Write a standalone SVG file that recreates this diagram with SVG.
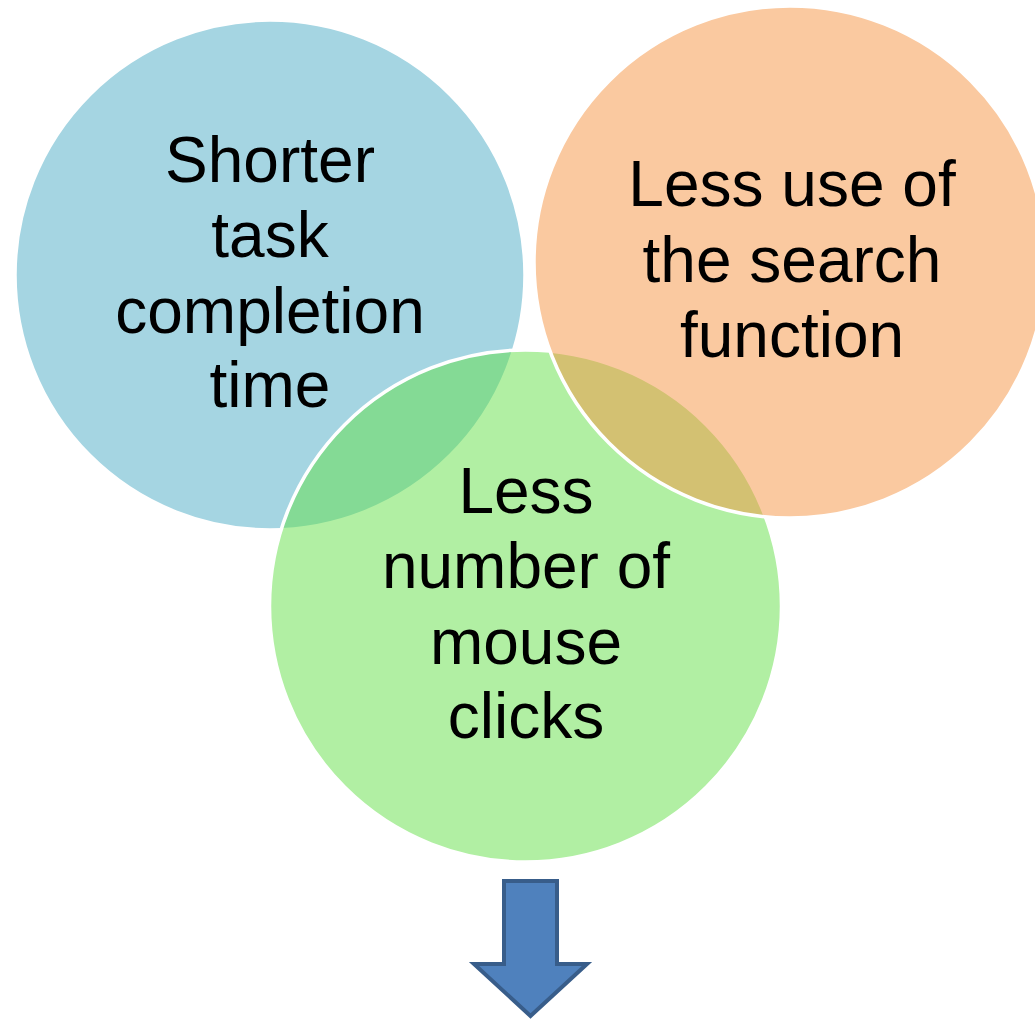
<svg xmlns="http://www.w3.org/2000/svg" width="1035" height="1020" viewBox="0 0 1035 1020">
<style>
.lbl{font-family:"Liberation Sans",Arial,sans-serif;font-size:64px;fill:#000;text-anchor:middle}
.circ{stroke:#fff;stroke-width:3.5}
</style>
<rect width="1035" height="1020" fill="#fff"/>
<g id="node-time">
<circle cx="270" cy="275" r="255" fill="#A5D5E2" class="circ"/>
</g>
<g id="node-clicks">
<circle cx="525.5" cy="606" r="256" fill="rgb(99,223,71)" fill-opacity="0.5" class="circ"/>
</g>
<g id="node-search">
<circle cx="790" cy="262" r="256" fill="rgb(245,147,65)" fill-opacity="0.5" class="circ"/>
</g>
<g id="labels">
<text class="lbl" x="270" y="182">Shorter</text>
<text class="lbl" x="270" y="257">task</text>
<text class="lbl" x="270" y="333">completion</text>
<text class="lbl" x="270" y="407">time</text>
<text class="lbl" x="792" y="206">Less use of</text>
<text class="lbl" x="792" y="282">the search</text>
<text class="lbl" x="792" y="357">function</text>
<text class="lbl" x="526" y="513">Less</text>
<text class="lbl" x="526" y="588">number of</text>
<text class="lbl" x="526" y="664">mouse</text>
<text class="lbl" x="526" y="738">clicks</text>
</g>
<g id="connectors">
<polygon points="504,881 557,881 557,964 587,964 530.5,1016 474,964 504,964" fill="#4F81BD" stroke="#385D8A" stroke-width="4" stroke-linejoin="miter"/>
</g>
</svg>
